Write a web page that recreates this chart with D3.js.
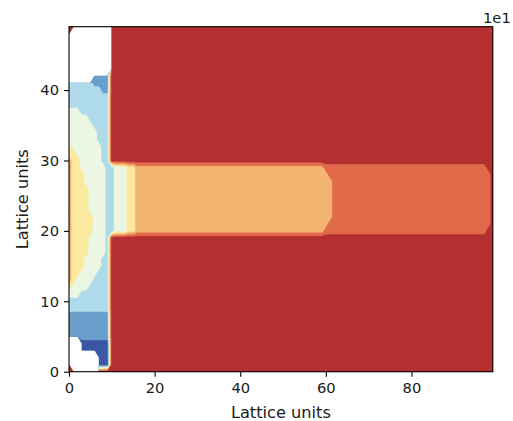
<!DOCTYPE html>
<html>
<head>
<meta charset="utf-8">
<script src="https://cdn.jsdelivr.net/npm/d3@7"></script>
<style>
  body { margin: 0; background: #fff; }
  svg text { font-family: "DejaVu Sans", sans-serif; fill: #1a1a1a; }
</style>
</head>
<body>
<svg id="chart" width="513" height="421"></svg>
<script>
// Lattice size (cells along x and y)
const gridWidth = 100;
const gridHeight = 50;

// Axis ticks
const xTicks = [0, 20, 40, 60, 80];
const yTicks = [0, 10, 20, 30, 40];
const axisTitleX = "Lattice units";
const axisTitleY = "Lattice units";
const offsetLabel = "1e1";

// Filled contour levels: level k is drawn where value >= thresholds[k-1]
const levelThresholds = [0.5, 1.5, 2.5, 3.5, 4.5, 5.5, 6.5, 7.5];
const levelColors = ["#3b56a5", "#6b9fcb", "#afdaea", "#ebf6e3", "#fce9a0", "#f3b471", "#e06a4a", "#b42f30"];

// Field, as run-length rows of [level, cellCount], from the top row (y = 49)
// down to y = 0. Level 0 marks cells without data (left blank).
const fieldRows = [
  [[8,2],[0,8],[8,90]],                                          // y=49
  [[8,1],[0,9],[8,90]],                                          // y=48
  [[0,10],[8,90]],                                               // y=47
  [[0,10],[8,90]],                                               // y=46
  [[0,10],[8,90]],                                               // y=45
  [[0,10],[8,90]],                                               // y=44
  [[0,10],[8,90]],                                               // y=43
  [[0,6],[2,4],[8,90]],                                          // y=42
  [[3,6],[2,4],[8,90]],                                          // y=41
  [[3,8],[2,2],[8,90]],                                          // y=40
  [[3,10],[8,90]],                                               // y=39
  [[3,10],[8,90]],                                               // y=38
  [[4,3],[3,7],[8,90]],                                          // y=37
  [[4,5],[3,5],[8,90]],                                          // y=36
  [[4,6],[3,4],[8,90]],                                          // y=35
  [[4,7],[3,3],[8,90]],                                          // y=34
  [[4,7],[3,3],[8,90]],                                          // y=33
  [[5,1],[4,7],[3,2],[8,90]],                                    // y=32
  [[5,2],[4,6],[3,2],[8,90]],                                    // y=31
  [[6,1],[5,2],[4,5],[3,2],[8,90]],                              // y=30
  [[6,1],[5,2],[4,6],[3,2],[4,3],[5,2],[6,44],[7,38],[8,2]],     // y=29
  [[6,1],[5,3],[4,5],[3,2],[4,3],[5,2],[6,45],[7,38],[8,1]],     // y=28
  [[6,1],[5,3],[4,5],[3,2],[4,3],[5,2],[6,46],[7,37],[8,1]],     // y=27
  [[6,1],[5,4],[4,4],[3,2],[4,3],[5,2],[6,46],[7,37],[8,1]],     // y=26
  [[6,1],[5,4],[4,4],[3,2],[4,3],[5,2],[6,46],[7,37],[8,1]],     // y=25
  [[6,1],[5,4],[4,4],[3,2],[4,3],[5,2],[6,46],[7,37],[8,1]],     // y=24
  [[6,1],[5,4],[4,4],[3,2],[4,3],[5,2],[6,46],[7,37],[8,1]],     // y=23
  [[6,1],[5,5],[4,3],[3,2],[4,3],[5,2],[6,46],[7,37],[8,1]],     // y=22
  [[6,1],[5,5],[4,3],[3,2],[4,3],[5,2],[6,45],[7,38],[8,1]],     // y=21
  [[6,1],[5,5],[4,3],[3,2],[4,3],[5,2],[6,44],[7,38],[8,2]],     // y=20
  [[6,1],[5,4],[4,4],[3,1],[8,90]],                              // y=19
  [[6,1],[5,4],[4,4],[3,1],[8,90]],                              // y=18
  [[6,1],[5,4],[4,4],[3,1],[8,90]],                              // y=17
  [[6,1],[5,3],[4,4],[3,2],[8,90]],                              // y=16
  [[6,1],[5,3],[4,4],[3,2],[8,90]],                              // y=15
  [[6,1],[5,2],[4,4],[3,3],[8,90]],                              // y=14
  [[6,1],[5,1],[4,4],[3,4],[8,90]],                              // y=13
  [[5,1],[4,4],[3,5],[8,90]],                                    // y=12
  [[4,3],[3,7],[8,90]],                                          // y=11
  [[3,10],[8,90]],                                               // y=10
  [[3,10],[8,90]],                                               // y=9
  [[2,10],[8,90]],                                               // y=8
  [[2,10],[8,90]],                                               // y=7
  [[2,10],[8,90]],                                               // y=6
  [[2,10],[8,90]],                                               // y=5
  [[0,3],[1,7],[8,90]],                                          // y=4
  [[0,3],[1,7],[8,90]],                                          // y=3
  [[0,7],[1,3],[8,90]],                                          // y=2
  [[8,1],[0,6],[1,3],[8,90]],                                    // y=1
  [[8,2],[0,5],[8,93]]                                           // y=0
];

// ---- layout ----
const plot = { left: 69, right: 492.8, top: 26.7, bottom: 371.7 };
const tickLen = 5;
const tickFont = 14.7;
const labelFont = 16.2;

const svg = d3.select("#chart");

const x = d3.scaleLinear().domain([0, gridWidth - 1]).range([plot.left, plot.right]);
const y = d3.scaleLinear().domain([0, gridHeight - 1]).range([plot.bottom, plot.top]);

// Expand run-length rows into the value grid (row index 0 = y 0)
const NO_DATA = -1e6;
const values = new Array(gridWidth * gridHeight).fill(NO_DATA);
fieldRows.forEach((runs, k) => {
  const row = gridHeight - 1 - k;
  let col = 0;
  runs.forEach(([level, count]) => {
    for (let i = 0; i < count && col < gridWidth; i++, col++) {
      values[row * gridWidth + col] = level === 0 ? NO_DATA : level;
    }
  });
});

const contours = d3.contours()
  .size([gridWidth, gridHeight])
  .thresholds(levelThresholds)(values);

// Grid cell i is centred at contour coordinate i + 0.5
const toScreen = d3.geoTransform({
  point(px, py) { this.stream.point(x(px - 0.5), y(py - 0.5)); }
});
const path = d3.geoPath(toScreen);

svg.append("defs").append("clipPath").attr("id", "plot-clip")
  .append("rect")
  .attr("x", plot.left).attr("y", plot.top)
  .attr("width", plot.right - plot.left).attr("height", plot.bottom - plot.top);

svg.append("g").attr("clip-path", "url(#plot-clip)")
  .selectAll("path")
  .data(contours)
  .join("path")
  .attr("d", path)
  .attr("fill", (d, i) => levelColors[i])
  .attr("stroke", (d, i) => levelColors[i])
  .attr("stroke-width", 0.3);

// ---- axes ----
const xAxis = d3.axisBottom(x).tickValues(xTicks).tickFormat(d3.format("d"))
  .tickSize(tickLen).tickSizeOuter(0).tickPadding(5.6);
const gx = svg.append("g").attr("transform", `translate(0,${plot.bottom})`).call(xAxis);

const yAxis = d3.axisLeft(y).tickValues(yTicks).tickFormat(d3.format("d"))
  .tickSize(tickLen).tickSizeOuter(0).tickPadding(5);
const gy = svg.append("g").attr("transform", `translate(${plot.left},0)`).call(yAxis);

[gx, gy].forEach(g => {
  g.attr("font-family", null).attr("font-size", null);
  g.select(".domain").remove();
  g.selectAll(".tick line").attr("stroke", "#000").attr("stroke-width", 1.1);
  g.selectAll(".tick text").style("font-size", tickFont + "px").attr("fill", "#1a1a1a");
});

// Frame
svg.append("rect")
  .attr("x", plot.left).attr("y", plot.top)
  .attr("width", plot.right - plot.left).attr("height", plot.bottom - plot.top)
  .attr("fill", "none").attr("stroke", "#000").attr("stroke-width", 1.1);

// Axis titles
svg.append("text")
  .attr("x", (plot.left + plot.right) / 2).attr("y", 418)
  .attr("text-anchor", "middle").style("font-size", labelFont + "px")
  .text(axisTitleX);

svg.append("text")
  .attr("transform", `translate(28.3,${(plot.top + plot.bottom) / 2}) rotate(-90)`)
  .attr("text-anchor", "middle").style("font-size", labelFont + "px")
  .text(axisTitleY);

// Offset text above the top-right corner
svg.append("text")
  .attr("x", 483).attr("y", 23)
  .style("font-size", tickFont + "px")
  .text(offsetLabel);
</script>
</body>
</html>
